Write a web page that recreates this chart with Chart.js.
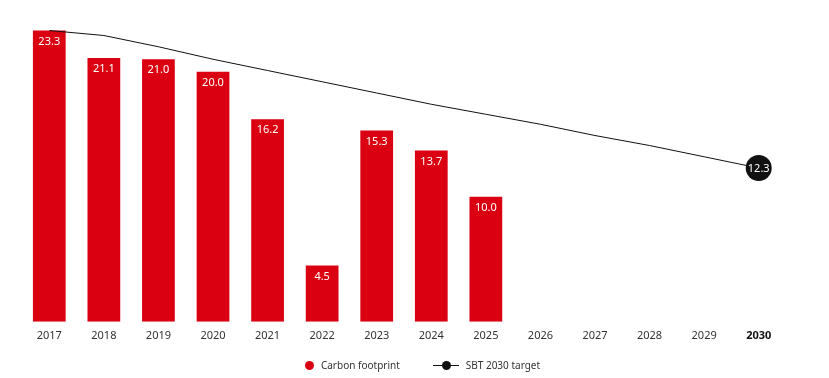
<!DOCTYPE html>
<html>
<head>
<meta charset="utf-8">
<script src="https://cdn.jsdelivr.net/npm/chart.js"></script>
<style>
  html, body { margin: 0; padding: 0; background: #fff; }
  .wrap { position: relative; width: 829px; height: 378px; font-family: "Noto Sans", sans-serif; }
  canvas { display: block; }
  .legend { position: absolute; left: 0; right: 0; top: 357px; display: flex; justify-content: center; gap: 33px; font-size: 10px; color: #333; padding-left: 16px; }
  .legend .item { display: flex; align-items: center; gap: 7px; height: 16px; }
  .dot { width: 9px; height: 9px; border-radius: 50%; background: #da0011; }
  .ln { position: relative; width: 26px; height: 9px; }
  .ln::before { content: ''; position: absolute; left: 0; right: 0; top: 4px; height: 1px; background: #111; }
  .ln::after { content: ''; position: absolute; left: 9px; top: 0; width: 9px; height: 9px; border-radius: 50%; background: #111; }
</style>
</head>
<body>
<div class="wrap">
  <canvas id="c" width="829" height="378"></canvas>
  <div class="legend">
    <div class="item"><span class="dot"></span><span>Carbon footprint</span></div>
    <div class="item"><span class="ln"></span><span>SBT 2030 target</span></div>
  </div>
</div>
<script>
const years = ['2017', '2018', '2019', '2020', '2021', '2022', '2023', '2024', '2025', '2026', '2027', '2028', '2029', '2030'];
const footprint = [23.3, 21.1, 21.0, 20.0, 16.2, 4.5, 15.3, 13.7, 10.0, null, null, null, null, null];
const target = [23.3, 22.9, 22.0, 21.0, 20.1, 19.2, 18.3, 17.4, 16.6, 15.8, 14.9, 14.1, 13.2, 12.3];

const RED = '#da0011';
const DARK = '#111111';

// etichette dentro le barre e nel punto 2030
const labelsPlugin = {
  id: 'valueLabels',
  afterDatasetsDraw(chart) {
    const ctx = chart.ctx;
    ctx.save();
    ctx.fillStyle = '#fff';
    ctx.textAlign = 'center';
    ctx.textBaseline = 'middle';
    ctx.font = '11px "Noto Sans", sans-serif';
    chart.getDatasetMeta(1).data.forEach((bar, i) => {
      const v = footprint[i];
      if (v == null) return;
      ctx.fillText(v.toFixed(1), bar.x, bar.y + 11);
    });
    const pts = chart.getDatasetMeta(0).data;
    const last = pts[pts.length - 1];
    ctx.fillText(target[target.length - 1].toFixed(1), last.x, last.y + 1);
    ctx.restore();
  }
};

new Chart(document.getElementById('c'), {
  data: {
    labels: years,
    datasets: [
      {
        type: 'line',
        label: 'SBT 2030 target',
        data: target,
        borderColor: DARK,
        borderWidth: 1,
        backgroundColor: DARK,
        pointRadius: target.map((v, i) => i === target.length - 1 ? 13 : 0),
        pointHoverRadius: 0,
        pointBorderWidth: 0,
        tension: 0,
        order: 0
      },
      {
        type: 'bar',
        label: 'Carbon footprint',
        data: footprint,
        backgroundColor: RED,
        barPercentage: 0.6,
        categoryPercentage: 1.0,
        order: 1
      }
    ]
  },
  options: {
    responsive: false,
    animation: false,
    layout: { padding: { left: 22, right: 43, top: 5, bottom: 29 } },
    plugins: { legend: { display: false }, tooltip: { enabled: false } },
    scales: {
      x: {
        grid: { display: false, drawTicks: false },
        border: { display: false },
        ticks: {
          color: ctx => ctx.index === years.length - 1 ? '#111' : '#333',
          font: ctx => ({ family: '"Noto Sans", sans-serif', size: 11, weight: ctx.index === years.length - 1 ? 'bold' : 'normal' }),
          padding: 7,
          maxRotation: 0
        }
      },
      y: { display: false, min: 0, max: 24.7 }
    }
  },
  plugins: [labelsPlugin]
});
</script>
</body>
</html>
